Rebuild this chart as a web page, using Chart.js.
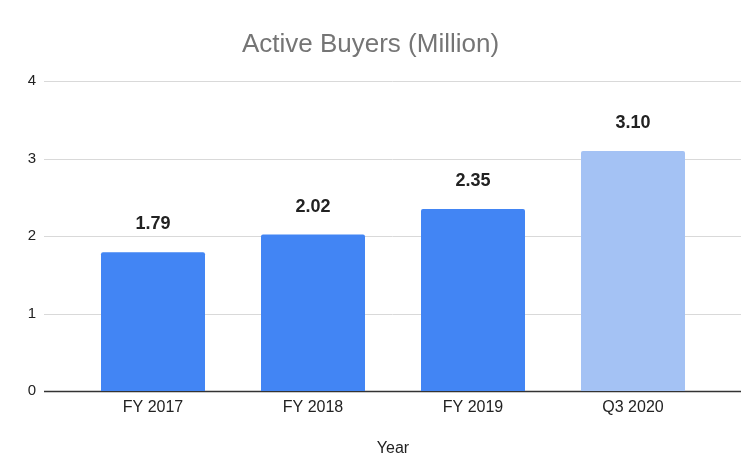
<!DOCTYPE html>
<html>
<head>
<meta charset="utf-8">
<script src="https://cdn.jsdelivr.net/npm/chart.js@4/dist/chart.umd.min.js"></script>
<style>
html,body{margin:0;padding:0;background:#fff;}
#wrap{width:741px;height:465px;position:relative;}
</style>
</head>
<body>
<div id="wrap"><canvas id="c" width="741" height="465"></canvas></div>
<script>
const categories = ["FY 2017", "FY 2018", "FY 2019", "Q3 2020"];
const buyers = [1.79, 2.02, 2.35, 3.10];
const barColors = ["#4285F4", "#4285F4", "#4285F4", "#A4C2F4"];
const yTicks = [0, 1, 2, 3, 4];

const FONT = "'Liberation Sans', Arial, sans-serif";

const gridPlugin = {
  id: 'extGrid',
  beforeDatasetsDraw(chart) {
    const ctx = chart.ctx, y = chart.scales.y;
    ctx.save();
    yTicks.forEach(v => {
      const py = Math.round(y.getPixelForValue(v)) + 0.5;
      ctx.beginPath();
      ctx.strokeStyle = v === 0 ? '#333333' : '#d9d9d9';
      ctx.lineWidth = v === 0 ? 1.5 : 1;
      ctx.moveTo(44, py);
      ctx.lineTo(chart.width, py);
      ctx.stroke();
    });
    ctx.restore();
  }
};

const labelPlugin = {
  id: 'valLabels',
  afterDatasetsDraw(chart) {
    const ctx = chart.ctx;
    const meta = chart.getDatasetMeta(0);
    ctx.save();
    ctx.font = "bold 18px " + FONT;
    ctx.fillStyle = '#222222';
    ctx.textAlign = 'center';
    ctx.textBaseline = 'middle';
    meta.data.forEach((bar, i) => {
      ctx.fillText(buyers[i].toFixed(2), bar.x, bar.y - 28);
    });
    ctx.restore();
  }
};

new Chart(document.getElementById('c'), {
  type: 'bar',
  data: {
    labels: categories,
    datasets: [{
      data: buyers,
      backgroundColor: barColors,
      borderRadius: {topLeft: 2, topRight: 2},
      borderSkipped: 'bottom',
      categoryPercentage: 1,
      barPercentage: 0.65
    }]
  },
  options: {
    responsive: false,
    animation: false,
    devicePixelRatio: 1,
    layout: { padding: { left: 0, right: 0, top: 0, bottom: 0 } },
    plugins: {
      legend: { display: false },
      tooltip: { enabled: false },
      title: {
        display: true,
        text: 'Active Buyers (Million)',
        color: '#757575',
        font: { family: FONT, size: 26, weight: 'normal' },
        padding: { top: 29, bottom: 21 }
      }
    },
    scales: {
      x: {
        grid: { display: false, drawTicks: false },
        border: { display: false },
        ticks: { color: '#222222', font: { family: FONT, size: 16 }, padding: 7 },
        title: { display: true, text: 'Year', color: '#222222', font: { family: FONT, size: 16 }, padding: { top: 0, bottom: 7 } },
        afterFit(s) { s.height = 74; }
      },
      y: {
        min: 0, max: 4,
        grid: { display: false, drawTicks: false },
        border: { display: false },
        ticks: { stepSize: 1, color: '#222222', font: { family: FONT, size: 15 }, padding: 37 },
        afterFit(s) { s.width = 73; }
      },
      yRight: {
        position: 'right',
        min: 0, max: 4,
        grid: { display: false, drawTicks: false },
        border: { display: false },
        ticks: { display: false },
        afterFit(s) { s.width = 28; }
      }
    }
  },
  plugins: [gridPlugin, labelPlugin]
});
</script>
</body>
</html>
